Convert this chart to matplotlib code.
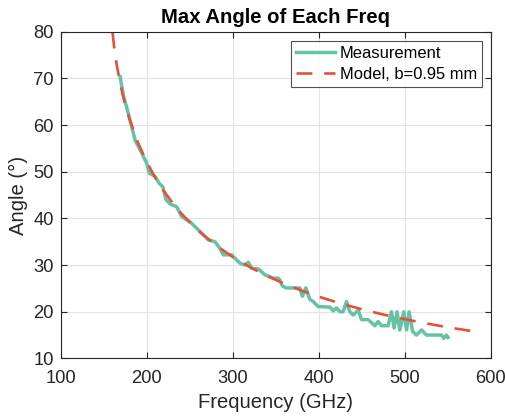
import matplotlib
matplotlib.use("Agg")
import matplotlib.pyplot as plt

plt.rcParams['font.family'] = ['Liberation Sans', 'DejaVu Sans']

meas_freq = [169, 172.8, 178.6, 186.4, 194.2, 200, 203, 209.6, 214.6, 218.6,
             222.4, 227, 234.8, 240.6, 246.5, 250.3, 258, 265.7, 271.5, 279.3,
             285, 289, 298.7, 304.5, 308.4, 314, 318, 322, 329.6, 337.4,
             343.2, 347, 352.8, 354.8, 356.8, 358.6, 362.6, 378, 381, 385,
             389.7, 393.5, 399.3, 412.9, 416.7, 420.6, 424.5, 428.3, 432.2, 436.1,
             440, 445.8, 449.7, 457.4, 465.2, 469, 472.9, 480.6, 484.5, 487.6,
             491, 494.2, 498.8, 502, 505, 509, 513.6, 519.4, 525.2, 542.6,
             545.3, 548.4, 550.3]
meas_angle = [70.4, 66.4, 62.5, 56.8, 54, 51.8, 49.7, 49, 47.5, 46.8,
              44, 43.1, 42.5, 40.4, 39.7, 39.3, 37.9, 36.5, 35.4, 35,
              33.6, 32.2, 32.2, 31.1, 30.4, 30, 30.6, 29.3, 29.2, 27.9,
              27.5, 27.2, 27.2, 26.8, 25.8, 25.4, 25.1, 25.1, 23.3, 25.1,
              22.6, 22.2, 21.1, 21, 20.2, 20.8, 20, 20, 22.2, 20,
              19.3, 20.3, 18.3, 18.3, 17, 17.9, 17, 17, 20, 16.5,
              20, 16.1, 20, 16.1, 20, 15.8, 15, 16.1, 15, 15,
              14.3, 15, 14.5]

# model curve, b = 0.95 mm
model_freq = [160.3, 162, 165, 170, 175, 180, 190, 200, 210, 220,
              230, 240, 250, 260, 280, 300, 320, 340, 360, 380,
              400, 425, 450, 475, 500, 525, 550, 580]
model_angle = [79.8, 76.9, 73.0, 68.15, 64.38, 61.27, 56.15, 52.09, 48.71, 45.83,
               43.32, 41.11, 39.12, 37.36, 34.3, 31.73, 29.54, 27.65, 26.0, 24.53,
               23.23, 21.79, 20.53, 19.4, 18.4, 17.49, 16.67, 15.79]

fig = plt.figure(figsize=(5.06, 4.18), dpi=100)
ax = fig.add_axes([0.12, 0.1426, 0.85, 0.7814])

ax.plot(meas_freq, meas_angle, color='#66c2a5', lw=2.5, label='Measurement')
ax.plot(model_freq, model_angle, color='#e5503a', lw=1.9, dashes=(6, 4.5),
        label='Model, b=0.95 mm')

ax.set_xlim(100, 600)
ax.set_ylim(10, 80)
ax.set_xticks(range(100, 601, 100))
ax.set_yticks(range(10, 81, 10))
ax.grid(True, color='#e3e3e3', lw=0.8)
ax.set_axisbelow(True)
ax.tick_params(direction='in', top=True, right=True, length=4, width=0.8,
               labelsize=13.2, colors='#262626')
ax.tick_params(axis='x', pad=8)
ax.tick_params(axis='y', pad=5)
for s in ax.spines.values():
    s.set_color('#262626')
    s.set_linewidth(0.8)

ax.set_title('Max Angle of Each Freq', fontsize=14.6, fontweight='bold', pad=6.5)
ax.set_xlabel('Frequency (GHz)', fontsize=14.6, color='#262626', labelpad=5)
ax.set_ylabel('Angle (°)', fontsize=14.6, color='#262626', labelpad=4)

leg = ax.legend(loc='upper right', fontsize=11.9, frameon=True, fancybox=False,
                edgecolor='#262626', borderpad=0.3, handlelength=2.4,
                handletextpad=0.25, borderaxespad=0.55, labelspacing=0.35)
leg.get_frame().set_linewidth(0.8)

fig.savefig('out.png', dpi=100)
